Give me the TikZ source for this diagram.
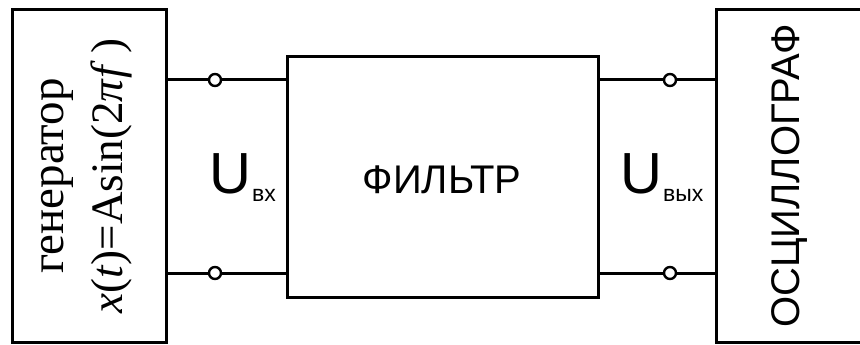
\documentclass[tikz,border=0pt]{standalone}
\usepackage{fontspec}
\setmainfont{Liberation Serif}
\newfontfamily\arialf{Liberation Sans}
\begin{document}
\begin{tikzpicture}[x=1pt,y=-1pt,
  blk/.style={draw,line width=3pt,inner sep=0pt},
  wire/.style={line width=3pt},
  term/.style={circle,draw,fill=white,line width=2.4pt,minimum size=12pt,inner sep=0pt}]
\useasboundingbox (0,0) rectangle (860,345);
\fill[white] (0,0) rectangle (860,345);
% blocks
\draw[blk] (12,10) rectangle (166,342);
\draw[blk] (287,57) rectangle (598,297);
\draw[blk] (716,10) rectangle (870,342);
\coordinate (gt) at (166,80);
\coordinate (gb) at (166,273);
\coordinate (fit) at (287,80);
\coordinate (fib) at (287,273);
\coordinate (fot) at (598,80);
\coordinate (fob) at (598,273);
\coordinate (ot) at (716,80);
\coordinate (ob) at (716,273);
\draw[wire] (gt) -- (fit);
\draw[wire] (gb) -- (fib);
\draw[wire] (fot) -- (ot);
\draw[wire] (fob) -- (ob);
\node[term] (t1) at (215,80) {};
\node[term] (t2) at (215,273) {};
\node[term] (t3) at (670,80) {};
\node[term] (t4) at (670,273) {};
% texts
\node[rotate=90,font=\fontsize{47}{47}\selectfont] (gen) at (57,176) {генератор};
\node[rotate=90,font=\fontsize{45}{45}\selectfont] (form) at (111,176) {\textit{x}(\textit{t})=Asin(2\textit{π}\textit{f}\,)};
\node[font=\arialf\fontsize{40}{40}\selectfont] (filt) at (442,180) {ФИЛЬТР};
\node[rotate=90,font=\arialf\fontsize{40}{40}\selectfont] (osc) at (790,176) {ОСЦИЛЛОГРАФ};
\node[font=\arialf\fontsize{58}{58}\selectfont,inner sep=0pt,anchor=base] (u1) at (230,193) {U};
\node[font=\arialf\fontsize{23}{23}\selectfont,inner sep=0pt,anchor=base west] (s1) at (252,201) {вх};
\node[font=\arialf\fontsize{58}{58}\selectfont,inner sep=0pt,anchor=base] (u2) at (641,193) {U};
\node[font=\arialf\fontsize{23}{23}\selectfont,inner sep=0pt,anchor=base west] (s2) at (663,201) {вых};
\end{tikzpicture}
\end{document}
